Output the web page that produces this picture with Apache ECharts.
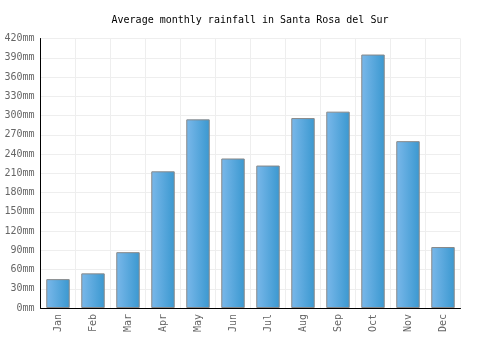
<!DOCTYPE html>
<html lang="en" style="height: 100%">
<head>
    <meta charset="UTF-8">
    <title>Santa Rosa del Sur rainfall</title>
    <script src="https://cdn.jsdelivr.net/npm/echarts@6/dist/echarts.min.js"></script>
</head>
<body style="height: 100%; margin: 0">
<div id="container" style="width: 500px; height: 350px"></div>
<script type="text/javascript">
    var months = ['Jan', 'Feb', 'Mar', 'Apr', 'May', 'Jun', 'Jul', 'Aug', 'Sep', 'Oct', 'Nov', 'Dec'];
    var rainfall = [45, 54, 87, 213, 294, 233, 222, 296, 306, 395, 260, 95];

    var myChart = echarts.init(document.getElementById('container'));
    var mono = 'DejaVu Sans Mono';

    var option = {
        animation: false,
        title: {
            text: 'Average monthly rainfall in Santa Rosa del Sur',
            left: 'center',
            top: 10,
            textStyle: {fontFamily: mono, fontSize: 10, fontWeight: 'normal', color: '#000'}
        },
        grid: {left: 40.5, right: 39.5, top: 38.5, bottom: 42},
        xAxis: {
            type: 'category',
            data: months,
            axisLine: {lineStyle: {color: '#000', width: 1}},
            axisTick: {show: false},
            axisLabel: {rotate: 90, fontFamily: mono, fontSize: 10, color: '#666', margin: 6},
            splitLine: {show: true, lineStyle: {color: '#eee'}}
        },
        yAxis: {
            type: 'value',
            min: 0,
            max: 420,
            interval: 30,
            axisLine: {show: true, lineStyle: {color: '#000', width: 1}},
            axisTick: {show: false},
            axisLabel: {formatter: '{value}mm', fontFamily: mono, fontSize: 10, color: '#666', margin: 6},
            splitLine: {lineStyle: {color: '#eee'}}
        },
        series: [{
            type: 'bar',
            data: rainfall,
            barWidth: '67%',
            itemStyle: {
                borderColor: '#888',
                borderWidth: 1,
                color: new echarts.graphic.LinearGradient(0, 0, 1, 0, [
                    {offset: 0, color: '#7ab8ea'},
                    {offset: 1, color: '#3a98d0'}
                ])
            }
        }]
    };
    myChart.setOption(option);
</script>
</body>
</html>
